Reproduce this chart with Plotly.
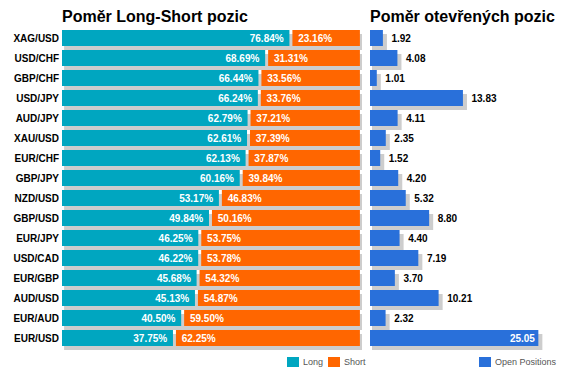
import plotly.graph_objects as go

pairs = ["XAG/USD", "USD/CHF", "GBP/CHF", "USD/JPY", "AUD/JPY", "XAU/USD", "EUR/CHF", "GBP/JPY",
         "NZD/USD", "GBP/USD", "EUR/JPY", "USD/CAD", "EUR/GBP", "AUD/USD", "EUR/AUD", "EUR/USD"]
long_pct = [76.84, 68.69, 66.44, 66.24, 62.79, 62.61, 62.13, 60.16,
            53.17, 49.84, 46.25, 46.22, 45.68, 45.13, 40.50, 37.75]
short_pct = [23.16, 31.31, 33.56, 33.76, 37.21, 37.39, 37.87, 39.84,
             46.83, 50.16, 53.75, 53.78, 54.32, 54.87, 59.50, 62.25]
open_pos = [1.92, 4.08, 1.01, 13.83, 4.11, 2.35, 1.52, 4.20,
            5.32, 8.80, 4.40, 7.19, 3.70, 10.21, 2.32, 25.05]
legend_items = [("Long", "#00A6C0"), ("Short", "#FF6600"), ("Open Positions", "#2970DA")]

TEAL = "#00A6C0"
ORANGE = "#FF6600"
BLUE = "#2970DA"
SHADOW = "#CDCDCD"
FONT = "Liberation Sans, Arial, sans-serif"

rows = list(range(len(pairs)))
n = len(pairs)
gap = 0.5
vmax = max(open_pos)

W, H = 566, 379
ml, mr, mt, mb = 62, 0, 28, 28
pw = W - ml - mr
ph = H - mt - mb


def px(x):
    return (x - ml) / pw


def py(y):
    return (H - mb - y) / ph


fig = go.Figure()

# left chart shadow
fig.add_trace(go.Bar(
    y=[r + 0.2 for r in rows], x=[l + s for l, s in zip(long_pct, short_pct)],
    base=[0.7] * n, orientation="h", width=0.8,
    marker=dict(color=SHADOW, line=dict(width=0)),
    showlegend=False, hoverinfo="skip", xaxis="x", yaxis="y"))
# long
fig.add_trace(go.Bar(
    y=rows, x=[l - gap for l in long_pct], base=[0] * n, orientation="h", width=0.8,
    marker=dict(color=TEAL, line=dict(width=0)), name="Long", showlegend=False,
    text=[f"{l:.2f}%\u00a0" for l in long_pct], textposition="inside",
    insidetextanchor="end", constraintext="none",
    textfont=dict(color="white", size=10, family=FONT, weight="bold"),
    xaxis="x", yaxis="y"))
# short
fig.add_trace(go.Bar(
    y=rows, x=[s - gap for s in short_pct], base=[l + gap for l in long_pct],
    orientation="h", width=0.8,
    marker=dict(color=ORANGE, line=dict(width=0)), name="Short", showlegend=False,
    text=[f"\u00a0{s:.2f}%" for s in short_pct], textposition="inside",
    insidetextanchor="start", constraintext="none",
    textfont=dict(color="white", size=10, family=FONT, weight="bold"),
    xaxis="x", yaxis="y"))

# right chart shadow
fig.add_trace(go.Bar(
    y=[r + 0.2 for r in rows], x=[v + 0.3 for v in open_pos], base=[0.3] * n,
    orientation="h", width=0.8,
    marker=dict(color=SHADOW, line=dict(width=0)),
    showlegend=False, hoverinfo="skip", xaxis="x2", yaxis="y"))
# open positions
fig.add_trace(go.Bar(
    y=rows, x=open_pos, base=[0] * n, orientation="h", width=0.8,
    marker=dict(color=BLUE, line=dict(width=0)), name="Open Positions", showlegend=False,
    text=[f"{v:.2f}" if v == vmax else f"\u00a0\u00a0{v:.2f}" for v in open_pos],
    textposition=["inside" if v == vmax else "outside" for v in open_pos],
    insidetextanchor="end", constraintext="none", cliponaxis=False,
    insidetextfont=dict(color="white", size=10, family=FONT, weight="bold"),
    outsidetextfont=dict(color="black", size=10, family=FONT, weight="bold"),
    xaxis="x2", yaxis="y"))

# legend (drawn as swatches + labels)
shapes = []
annotations = []
legend_x = [287, 328, 479]
for (label, color), lx in zip(legend_items, legend_x):
    shapes.append(dict(type="rect", xref="paper", yref="paper",
                       x0=px(lx), x1=px(lx + 12), y0=py(367), y1=py(357),
                       fillcolor=color, line=dict(width=0)))
    annotations.append(dict(text=label, x=px(lx + 14), y=py(362), xref="paper", yref="paper",
                            xanchor="left", yanchor="middle", showarrow=False,
                            font=dict(family=FONT, size=9, color="#555555")))

annotations += [
    dict(text="Poměr Long-Short pozic", x=px(60), y=py(16), xref="paper", yref="paper",
         xanchor="left", yanchor="middle", showarrow=False,
         font=dict(family=FONT, size=16, color="black", weight="bold")),
    dict(text="Poměr otevřených pozic", x=px(368), y=py(16), xref="paper", yref="paper",
         xanchor="left", yanchor="middle", showarrow=False,
         font=dict(family=FONT, size=16, color="black", weight="bold")),
]

fig.update_layout(
    width=W, height=H, barmode="overlay", showlegend=False,
    margin=dict(l=ml, r=mr, t=mt, b=mb, autoexpand=False),
    paper_bgcolor="white", plot_bgcolor="white",
    font=dict(family=FONT, size=10, color="black"),
    xaxis=dict(domain=[0, px(362)], range=[0, 100.7], visible=False, fixedrange=True),
    xaxis2=dict(domain=[px(370), px(560)], range=[0, 190 / 6.72], visible=False,
                fixedrange=True, anchor="y"),
    yaxis=dict(range=[15.65, -0.5], tickvals=rows, ticktext=pairs, showgrid=False,
               zeroline=False, showline=False, ticks="", ticklabelstandoff=2,
               automargin=False,
               tickfont=dict(family=FONT, size=10, color="black", weight="bold"),
               fixedrange=True),
    shapes=shapes,
    annotations=annotations,
)

fig.write_html("out.html", config={"displayModeBar": False},
               post_script="document.body.style.margin='0';")
